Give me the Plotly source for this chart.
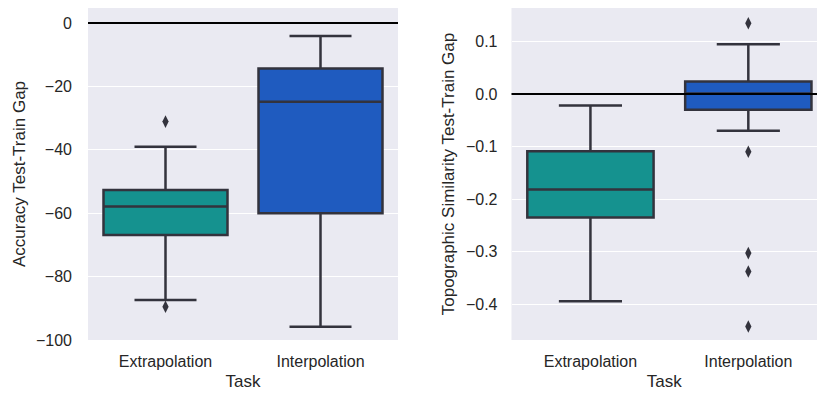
import plotly.graph_objects as go

# Task categories
tasks = ["Extrapolation", "Interpolation"]

# Accuracy test-train gap: box statistics per task
acc_q1 = [-66.9, -60.0]
acc_median = [-57.9, -24.8]
acc_q3 = [-52.7, -14.3]
acc_lower = [-87.4, -95.8]
acc_upper = [-39.0, -4.1]
acc_outlier_task = ["Extrapolation", "Extrapolation"]
acc_outlier_val = [-31.1, -89.5]

# Topographic similarity test-train gap: box statistics per task
topo_q1 = [-0.235, -0.030]
topo_median = [-0.182, 0.001]
topo_q3 = [-0.109, 0.024]
topo_lower = [-0.395, -0.070]
topo_upper = [-0.022, 0.095]
topo_outlier_task = ["Interpolation"] * 5
topo_outlier_val = [0.135, -0.110, -0.303, -0.338, -0.443]

acc_yticks = [0, -20, -40, -60, -80, -100]
topo_yticks = [0.1, 0.0, -0.1, -0.2, -0.3, -0.4]

colors = ["#15928F", "#1F5BBF"]
edge = "#33333D"
bg = "#EAEAF2"
text_col = "#262626"
font_family = "Liberation Sans, Arial, sans-serif"

fig = go.Figure()


def add_boxes(q1, med, q3, lo, hi, xa, ya):
    for i, t in enumerate(tasks):
        fig.add_trace(go.Box(
            x=[t], q1=[q1[i]], median=[med[i]], q3=[q3[i]],
            lowerfence=[lo[i]], upperfence=[hi[i]],
            width=0.8, whiskerwidth=0.5,
            fillcolor=colors[i], line=dict(color=edge, width=2.5),
            boxpoints=False, xaxis=xa, yaxis=ya, showlegend=False,
        ))


def add_outliers(xs, ys, xa, ya):
    fig.add_trace(go.Scatter(
        x=xs, y=ys, mode="markers", xaxis=xa, yaxis=ya, showlegend=False,
        marker=dict(symbol="diamond-tall", size=9, color=edge, line=dict(width=0)),
    ))


add_boxes(acc_q1, acc_median, acc_q3, acc_lower, acc_upper, "x", "y")
add_outliers(acc_outlier_task, acc_outlier_val, "x", "y")
add_boxes(topo_q1, topo_median, topo_q3, topo_lower, topo_upper, "x2", "y2")
add_outliers(topo_outlier_task, topo_outlier_val, "x2", "y2")

# Zero reference lines
for xref, yref in [("x domain", "y"), ("x2 domain", "y2")]:
    fig.add_shape(type="line", xref=xref, yref=yref, x0=0, x1=1, y0=0, y1=0,
                  line=dict(color="black", width=2), layer="above")

W, H = 817, 393
ydom = [(H - 340) / H, (H - 8) / H]

xaxis_common = dict(
    type="category", categoryorder="array", categoryarray=tasks,
    showgrid=False, zeroline=False, showline=False, ticks="", automargin=False,
    tickfont=dict(size=16, color=text_col), ticklabelstandoff=10,
    title=dict(text="Task", font=dict(size=17, color=text_col), standoff=6),
)
yaxis_common = dict(
    showgrid=True, gridcolor="white", gridwidth=1.3, zeroline=False,
    showline=False, ticks="", tickfont=dict(size=16, color=text_col),
    domain=ydom, automargin=False,
)

fig.update_layout(
    width=W, height=H,
    margin=dict(l=0, r=0, t=0, b=0),
    paper_bgcolor="white", plot_bgcolor=bg,
    font=dict(family=font_family, color=text_col),
    xaxis=dict(**xaxis_common, domain=[88 / W, 398 / W], range=[-0.5, 1.5], anchor="y"),
    xaxis2=dict(**xaxis_common, domain=[511.5 / W, 1.0], range=[-0.5, 1.435], anchor="y2"),
    yaxis=dict(**yaxis_common, range=[-100, 4.75], tickvals=acc_yticks,
               ticktext=[f"{v:d}".replace("-", "\u2212") for v in acc_yticks],
               ticklabelstandoff=15, anchor="x",
               title=dict(text="Accuracy Test-Train Gap",
                          font=dict(size=17, color=text_col), standoff=6)),
    yaxis2=dict(**yaxis_common, range=[-0.4686, 0.164], tickvals=topo_yticks,
                ticktext=[f"{v:.1f}".replace("-", "\u2212") for v in topo_yticks],
                ticklabelstandoff=13, anchor="x2",
                title=dict(text="Topographic Similarity Test-Train Gap",
                           font=dict(size=17, color=text_col), standoff=6)),
)

fig.write_html("out.html")
